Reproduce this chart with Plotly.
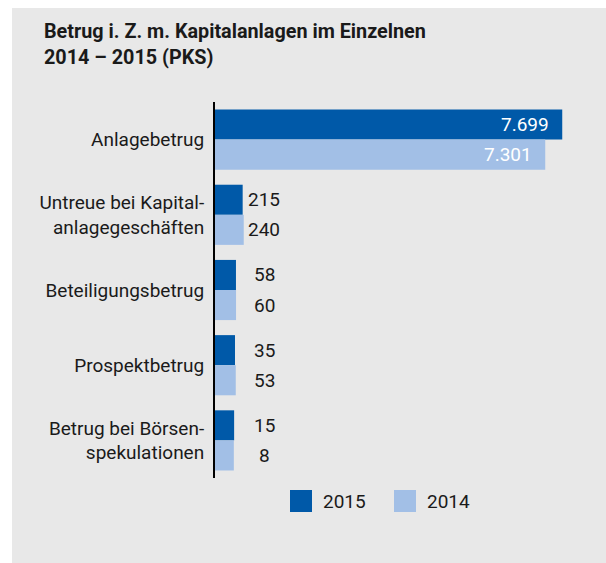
import plotly.graph_objects as go

# ---- data ----
categories = [
    "Anlagebetrug",
    "Untreue bei Kapital-<br>anlagegeschäften",
    "Beteiligungsbetrug",
    "Prospektbetrug",
    "Betrug bei Börsen-<br>spekulationen",
]
series_names = ["2015", "2014"]
values_2015 = [7699, 215, 58, 35, 15]
values_2014 = [7301, 240, 60, 53, 8]
labels_2015 = ["7.699", "215", "58", "35", "15"]
labels_2014 = ["7.301", "240", "60", "53", "8"]

# ---- style ----
W, H = 606, 563
ML, MR, MT, MB = 215, 16, 102, 85
COL_DARK = "#0059A8"
COL_LIGHT = "#A2BFE6"
PANEL = "#E8E8E8"
TXT = "#1A1A1A"
FONT = "Roboto, 'Noto Sans', sans-serif"
OFFSET = 433          # stub width so small values stay visible (display only)
XMAX = 8349
INSIDE_MIN = 1000     # values above this get an inside label

pw = W - ML - MR
ph = H - MT - MB


def px_x(p):
    return (p - ML) / pw


def px_y(q):
    return (H - MB - q) / ph


fig = go.Figure()
series = [(values_2015, labels_2015, COL_DARK, series_names[0]),
          (values_2014, labels_2014, COL_LIGHT, series_names[1])]
for vals, labs, col, name in series:
    fig.add_trace(go.Bar(
        y=categories,
        x=[v + OFFSET for v in vals],
        base=[-OFFSET] * len(vals),
        orientation="h",
        name=name,
        marker=dict(color=col, line=dict(width=0)),
        customdata=vals,
        hovertemplate="%{y}: %{customdata}<extra>" + name + "</extra>",
        showlegend=False,
    ))

annotations = []
for si, (vals, labs, col, name) in enumerate(series):
    for ci, (v, lab) in enumerate(zip(vals, labs)):
        yoff = -0.2 if si == 0 else 0.2
        if v > INSIDE_MIN:
            annotations.append(dict(
                x=v, y=ci + yoff, xref="x", yref="y", text=lab,
                xanchor="right", yanchor="middle", xshift=-11,
                showarrow=False, font=dict(family=FONT, size=19, color="white")))
        else:
            annotations.append(dict(
                x=px_x(264), y=ci + yoff, xref="paper", yref="y", text=lab,
                xanchor="center", yanchor="middle",
                showarrow=False, font=dict(family=FONT, size=19, color=TXT)))

# title
annotations.append(dict(
    x=px_x(42), y=px_y(18), xref="paper", yref="paper",
    text="<b>Betrug i. Z. m. Kapitalanlagen im Einzelnen<br>2014 – 2015 (PKS)</b>",
    xanchor="left", yanchor="top", align="left", showarrow=False,
    font=dict(family=FONT, size=19.8, color=TXT)))

shapes = [dict(type="rect", xref="paper", yref="paper", layer="below",
               x0=px_x(12), x1=px_x(W + 2), y0=px_y(8), y1=px_y(H + 2),
               fillcolor=PANEL, line=dict(width=0))]

# legend (manual, larger swatches)
leg_items = [(series_names[0], COL_DARK, 290), (series_names[1], COL_LIGHT, 394)]
for name, col, x0 in leg_items:
    shapes.append(dict(type="rect", xref="paper", yref="paper",
                       x0=px_x(x0), x1=px_x(x0 + 22), y0=px_y(490), y1=px_y(512),
                       fillcolor=col, line=dict(width=0)))
    annotations.append(dict(x=px_x(x0 + 31), y=px_y(501), xref="paper", yref="paper",
                            text=name, xanchor="left", yanchor="middle", showarrow=False,
                            font=dict(family=FONT, size=19, color=TXT)))

fig.update_layout(
    width=W, height=H,
    margin=dict(l=ML, r=MR, t=MT, b=MB),
    paper_bgcolor="white",
    plot_bgcolor="rgba(0,0,0,0)",
    barmode="group",
    bargap=0.2,
    bargroupgap=0,
    font=dict(family=FONT, size=19, color=TXT),
    shapes=shapes,
    annotations=annotations,
    showlegend=False,
)
fig.update_xaxes(range=[-OFFSET, XMAX], visible=False, fixedrange=True)
fig.update_yaxes(
    autorange="reversed", showline=True, linecolor="black", linewidth=2,
    showgrid=False, zeroline=False, ticks="", ticklabelstandoff=5,
    tickfont=dict(family=FONT, size=19, color=TXT), fixedrange=True,
)

fig.write_html("out.html", config={"displayModeBar": False},
               post_script="document.body.style.margin='0px';document.body.style.overflow='hidden';")
